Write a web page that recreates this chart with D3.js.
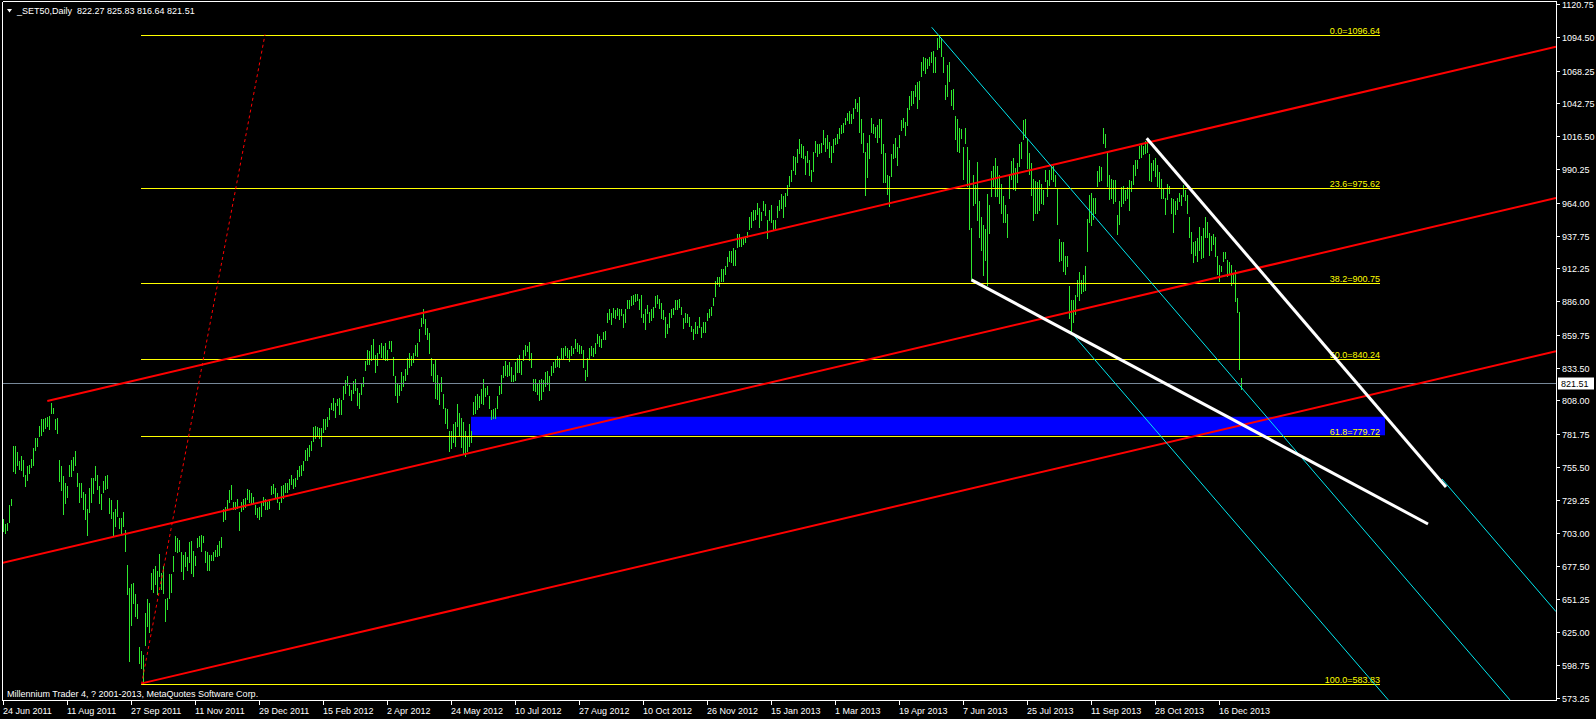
<!DOCTYPE html>
<html><head><meta charset="utf-8">
<script src="https://cdn.jsdelivr.net/npm/d3@7"></script>
<style>html,body{margin:0;padding:0;background:#000;overflow:hidden}</style>
</head><body><svg id="c" width="1596" height="719"></svg>
<script>
// ---- data (daily bars of _SET50, index 0 = 24 Jun 2011) ----
const highs = [
714,710,711,725,730,772,772,767,760,764,
761,749,756,757,762,770,778,778,788,793,
793,794,795,796,806,802,793,794,761,756,
748,743,740,757,761,763,768,751,743,743,
736,734,722,739,747,747,756,749,740,734,
744,748,749,731,729,720,722,729,715,715,
720,706,678,660,663,664,655,647,613,610,
607,640,651,648,672,675,677,673,687,672,
677,651,652,671,671,685,701,699,698,688,
686,688,684,696,697,689,685,699,701,702,
701,689,688,686,686,688,690,694,697,700,
722,724,729,737,741,728,728,730,720,728,
730,731,738,737,735,732,725,723,724,728,
732,730,728,730,740,742,739,735,728,740,
741,743,743,746,749,746,747,753,756,757,
760,769,770,773,776,787,788,787,786,786,
793,793,795,802,806,810,806,809,810,808,
819,824,827,820,816,823,825,818,814,822,
826,839,848,847,852,856,844,845,852,853,
851,853,848,855,855,842,827,821,820,830,
827,833,841,845,843,845,852,853,864,873,
880,872,865,861,841,837,840,828,822,826,
813,802,801,784,784,789,791,805,798,794,
791,784,780,789,784,807,811,813,811,817,
825,818,819,811,800,801,802,811,819,828,
835,839,836,838,834,828,838,841,844,839,
848,852,851,854,845,825,825,822,824,825,
824,830,831,827,835,838,840,843,841,849,
849,851,849,848,851,849,856,853,852,851,
848,832,841,849,851,849,853,860,859,856,
862,863,877,880,877,881,879,881,880,880,
876,880,887,887,890,891,892,892,888,891,
876,880,883,878,880,882,890,891,888,885,
879,874,868,877,880,881,887,887,888,882,
873,877,876,874,867,864,870,867,874,866,
870,870,877,880,882,889,902,905,905,912,
912,914,921,926,926,928,927,939,939,937,
937,938,941,953,957,958,958,964,960,957,
965,963,950,958,962,950,950,961,966,971,
969,972,978,985,990,1001,1000,1006,1014,1010,
1009,1001,1005,998,990,1004,1013,1010,1010,1011,
1021,1015,1017,1012,1009,1014,1015,1018,1023,1025,
1027,1031,1035,1036,1034,1039,1046,1043,1047,1030,
1019,1004,1011,1017,1031,1026,1024,1025,1030,1030,
1010,1003,986,985,1002,1010,1015,1008,1017,1029,
1031,1028,1039,1048,1052,1052,1057,1059,1060,1075,
1079,1078,1077,1079,1083,1084,1079,1094,1096.64,1094,
1079,1057,1073,1075,1053,1054,1032,1030,1023,1022,
1008,1023,1008,998,944,986,978,996,965,953,
946,943,971,962,989,993,999,993,986,979,
969,962,955,987,997,999,991,995,1010,1012,
1029,1030,1014,1003,995,983,981,980,982,979,
974,990,982,990,994,993,986,975,935,933,
933,922,922,898,887,887,891,903,909,903,
907,914,951,970,972,968,968,989,993,992,
1023,1018,1004,986,983,982,982,954,965,976,
977,974,976,982,981,994,998,998,1009,1011,
1009,1013,1015,1002,995,998,999,994,988,983,
975,968,979,977,968,967,965,968,972,970,
978,974,970,953,941,933,934,936,945,938,
944,953,949,940,938,939,937,922,915,914,
925,925,919,917,915,908,911,889,878,825.83
];
const lows = [
705,703,706,712,725,752,751,757,754,753,
748,740,745,751,755,757,769,772,780,781,
784,786,788,785,798,798,785,782,744,737,
718,727,732,748,748,753,757,740,728,732,
722,714,702,720,728,735,745,738,727,722,
736,738,739,719,715,702,709,717,707,703,
709,689,655,602,631,648,638,636,601,597,
583.83,615,630,625,659,657,663,655,669,659,
656,634,643,652,657,673,689,688,689,673,
667,677,674,680,672,669,678,692,693,689,
696,680,674,674,682,682,685,685,686,692,
713,714,722,728,730,722,722,723,706,721,
722,724,730,728,727,728,718,716,714,717,
725,722,722,723,734,735,732,728,722,728,
731,736,736,738,742,739,740,746,748,749,
753,761,761,764,769,776,778,780,778,772,
783,785,788,793,801,800,795,804,797,797,
809,814,820,812,808,814,816,804,802,813,
819,832,837,837,840,841,830,836,845,842,
841,840,840,849,847,828,812,807,812,816,
819,824,829,834,836,838,844,843,855,867,
869,860,856,845,828,823,810,809,805,815,
802,790,786,768,770,775,772,788,780,771,
766,764,768,772,775,797,798,801,803,806,
805,811,813,802,793,794,794,802,813,814,
826,828,827,828,823,823,824,830,830,829,
840,844,847,840,834,816,815,813,808,809,
815,819,821,816,828,830,834,835,834,841,
841,844,842,839,844,845,849,847,845,845,
834,824,827,841,844,843,845,853,851,850,
856,856,870,872,868,874,873,875,872,875,
866,870,881,881,883,884,886,887,880,874,
870,864,877,870,871,874,882,885,881,873,
872,858,861,866,874,876,880,880,882,876,
865,870,870,867,863,856,861,861,866,858,
862,862,871,874,875,883,890,900,898,902,
902,908,914,918,917,915,915,929,930,930,
931,933,937,943,945,950,951,955,945,950,
958,954,936,950,949,943,944,953,958,960,
953,961,970,977,981,990,987,996,1003,1000,
999,987,996,986,981,989,1004,1001,1003,1004,
1010,1005,1007,1000,996,1004,1010,1011,1015,1019,
1020,1026,1029,1027,1027,1031,1039,1036,1020,1011,
1004,970,984,999,1020,1019,1016,1012,1016,1003,
980,980,971,961,985,999,1000,994,1008,1021,
1024,1017,1025,1038,1041,1043,1048,1039,1046,1064,
1069,1066,1070,1073,1075,1067,1067,1085,1087,1080,
1067,1046,1048,1060,1041,1038,1014,1005,1004,1015,
983,1011,977,943,903,962,964,950,937,927,
907,919,899,940,969,977,969,969,964,956,
949,949,937,968,983,975,974,980,993,999,
1014,1016,991,987,970,950,956,956,958,964,
963,981,969,978,983,981,977,947,918,919,
910,908,914,873,862,870,876,890,887,893,
894,895,926,949,946,951,956,977,981,982,
1011,1008,977,967,968,964,965,939,947,961,
964,966,968,958,973,979,986,991,999,1000,
1002,1003,1004,982,981,990,985,977,976,968,
968,955,967,972,956,941,955,959,965,962,
969,966,956,937,924,917,923,918,927,920,
921,937,937,923,927,931,922,908,902,910,
918,920,906,908,899,901,886,878,833,816.64
];
const dateLabels = ["24 Jun 2011","11 Aug 2011","27 Sep 2011","11 Nov 2011","29 Dec 2011","15 Feb 2012","2 Apr 2012","24 May 2012","10 Jul 2012","27 Aug 2012","10 Oct 2012","26 Nov 2012","15 Jan 2013","1 Mar 2013","19 Apr 2013","7 Jun 2013","25 Jul 2013","11 Sep 2013","28 Oct 2013","16 Dec 2013"];
const barsPerDateLabel = 32;
const priceTicks = [1120.75,1094.50,1068.25,1042.75,1016.50,990.25,964.00,937.75,912.25,886.00,859.75,833.50,808.00,781.75,755.50,729.25,703.00,677.50,651.25,625.00,598.75,573.25];
const fibLevels = ["0.0","23.6","38.2","50.0","61.8","100.0"];
const fibPrices = [1096.64,975.62,900.75,840.24,779.72,583.83];
const fibStartEnd = [68.75, 688.25];            // bar index span of fibo levels
const fibDiagonal = [[69, 583.83],[130.75, 1096.64]];
const lastPrice = 821.51;
const headerSymbol = "_SET50,Daily";
const headerOHLC = [822.27, 825.83, 816.64, 821.51];
const copyright = "Millennium Trader 4, ? 2001-2013, MetaQuotes Software Corp.";
// objects: [barIndex, price] anchors
const redChannel = [
  [[21.9, 807.4],[776.25, 1087.1]],
  [[-1.75, 679.3],[776.25, 967.7]],
  [[69.1, 584.6],[776.25, 846.7]]
];
const cyanLines = [
  [[464.1, 1102.4],[753.25, 571.5]],
  [[533.25, 862.7],[692.4, 571.5]],
  [[719.25, 745.9],[776.25, 641.2]]
];
const whiteLines = [
  [[571.6, 1014.8],[721.25, 739.6]],
  [[484, 903.0],[712.25, 710.4]]
];
const zoneRect = {i0: 233.75, i1: 690.75, p0: 780.4, p1: 795.0};

// ---- drawing ----
const svg = d3.select("#c");
const W = 1596, H = 719;
const x = d3.scaleLinear().domain([0, 619]).range([3.5, 1241.5]);
const y = d3.scaleLinear().domain([570.67, 1123.94]).range([701, 0]);
const FONT = "'Liberation Sans', Arial, sans-serif";

svg.append("rect").attr("width", W).attr("height", H).attr("fill", "#000");
svg.append("defs").append("clipPath").attr("id", "clip")
  .append("rect").attr("x", 3).attr("y", 2).attr("width", 1553).attr("height", 698);
const plot = svg.append("g").attr("clip-path", "url(#clip)");

// zone rectangle (background)
plot.append("rect")
  .attr("x", x(zoneRect.i0)).attr("y", y(zoneRect.p1))
  .attr("width", x(zoneRect.i1) - x(zoneRect.i0))
  .attr("height", y(zoneRect.p0) - y(zoneRect.p1))
  .attr("fill", "#0000FF");

// bars
plot.append("g").attr("shape-rendering", "crispEdges")
  .selectAll("line").data(highs).join("line")
  .attr("x1", (d, i) => x(i)).attr("x2", (d, i) => x(i))
  .attr("y1", d => y(d)).attr("y2", (d, i) => y(lows[i]) + 1)
  .attr("stroke", "#2EE82E").attr("stroke-width", 1);

// current price line
plot.append("line").attr("x1", 0).attr("x2", 1556).attr("y1", Math.round(y(lastPrice)) + 0.5).attr("y2", Math.round(y(lastPrice)) + 0.5)
  .attr("stroke", "#778899").attr("stroke-width", 1).attr("shape-rendering", "crispEdges");

// fibonacci
const fg = plot.append("g");
fibPrices.forEach((p, k) => {
  const yy = Math.round(y(p)) + 0.5;
  fg.append("line").attr("x1", x(fibStartEnd[0])).attr("x2", x(fibStartEnd[1]))
    .attr("y1", yy).attr("y2", yy).attr("stroke", "#FFFF00").attr("stroke-width", 1)
    .attr("shape-rendering", "crispEdges");
  fg.append("text").attr("x", x(fibStartEnd[1])).attr("y", yy - 2)
    .attr("text-anchor", "end").attr("fill", "#FFFF00")
    .attr("font-family", FONT).attr("font-size", "9px")
    .text(fibLevels[k] + "=" + p.toFixed(2));
});
const line = d3.line().x(d => x(d[0])).y(d => y(d[1]));
plot.append("path").attr("d", line(fibDiagonal)).attr("stroke", "#FF0000")
  .attr("stroke-width", 1).attr("stroke-dasharray", "3,3").attr("fill", "none");

// channels
redChannel.forEach(seg => plot.append("path").attr("d", line(seg))
  .attr("stroke", "#FF0000").attr("stroke-width", 2).attr("fill", "none"));
cyanLines.forEach(seg => plot.append("path").attr("d", line(seg))
  .attr("stroke", "#00E8F0").attr("stroke-width", 1).attr("fill", "none"));
whiteLines.forEach(seg => plot.append("path").attr("d", line(seg))
  .attr("stroke", "#FFFFFF").attr("stroke-width", 3).attr("fill", "none"));

// frame
const fr = svg.append("g").attr("shape-rendering", "crispEdges").attr("stroke", "#FFFFFF").attr("stroke-width", 1);
fr.append("line").attr("x1", 2.5).attr("x2", 1556.5).attr("y1", 1.5).attr("y2", 1.5);
fr.append("line").attr("x1", 2.5).attr("x2", 2.5).attr("y1", 1.5).attr("y2", 700.5);
fr.append("line").attr("x1", 1556.5).attr("x2", 1556.5).attr("y1", 1.5).attr("y2", 700.5);
fr.append("line").attr("x1", 2.5).attr("x2", 1556.5).attr("y1", 700.5).attr("y2", 700.5);

// price axis
const pa = svg.append("g");
priceTicks.forEach(p => {
  const yy = Math.round(y(p)) + 0.5;
  pa.append("line").attr("x1", 1556).attr("x2", 1560).attr("y1", yy).attr("y2", yy)
    .attr("stroke", "#fff").attr("shape-rendering", "crispEdges");
  pa.append("text").attr("x", 1562).attr("y", yy + 3.5).attr("fill", "#fff")
    .attr("font-family", FONT).attr("font-size", "9px").text(p.toFixed(2));
});
// last price box
const ly = Math.round(y(lastPrice)) + 0.5;
pa.append("rect").attr("x", 1558).attr("y", ly - 6).attr("width", 36).attr("height", 12).attr("fill", "#fff");
pa.append("text").attr("x", 1561).attr("y", ly + 3.5).attr("fill", "#000")
  .attr("font-family", FONT).attr("font-size", "9px").text(lastPrice.toFixed(2));

// date axis
const da = svg.append("g");
dateLabels.forEach((t, k) => {
  const xx = x(k * barsPerDateLabel);
  da.append("line").attr("x1", xx).attr("x2", xx).attr("y1", 701).attr("y2", 705)
    .attr("stroke", "#fff").attr("shape-rendering", "crispEdges");
  da.append("text").attr("x", xx - 0.5).attr("y", 713.5).attr("fill", "#fff")
    .attr("font-family", FONT).attr("font-size", "9px").text(t);
});

// header
svg.append("path").attr("d", "M7,9 L12,9 L9.5,12.5 Z").attr("fill", "#fff");
svg.append("text").attr("x", 17).attr("y", 14).attr("fill", "#fff")
  .attr("font-family", FONT).attr("font-size", "9px").attr("xml:space", "preserve")
  .text(headerSymbol + "  " + headerOHLC.map(v => v.toFixed(2)).join(" "));
svg.append("text").attr("x", 7).attr("y", 696.5).attr("fill", "#fff")
  .attr("font-family", FONT).attr("font-size", "9px").text(copyright);
</script>
</body></html>
